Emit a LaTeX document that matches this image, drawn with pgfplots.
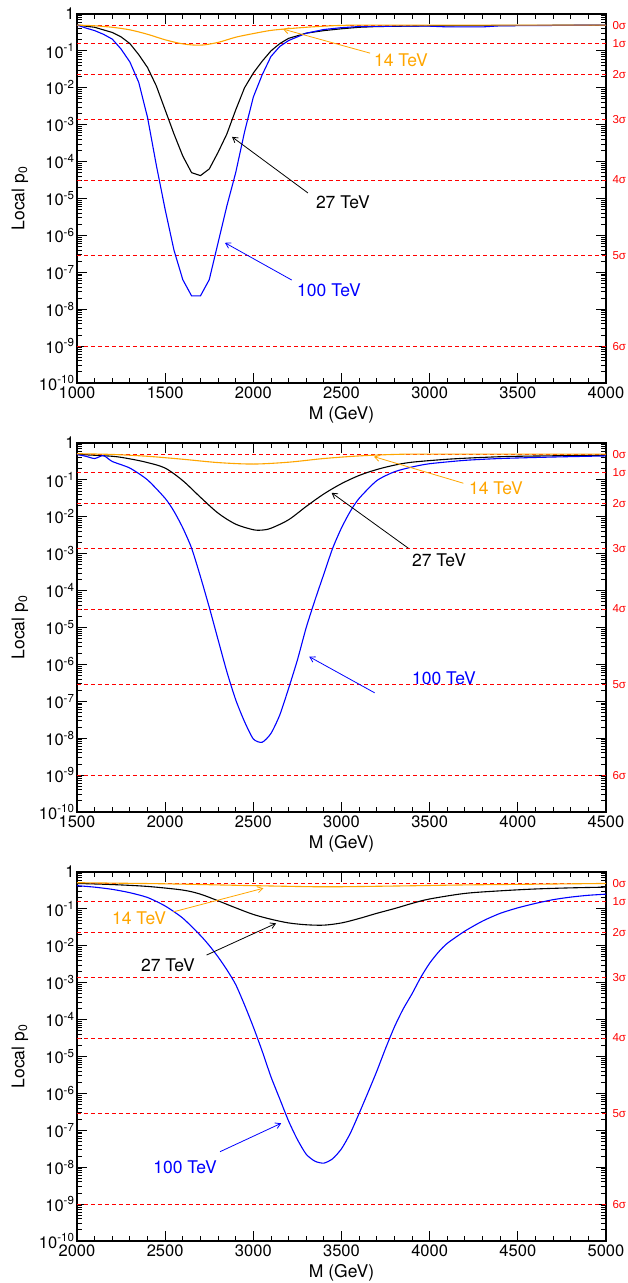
\documentclass[border=0pt]{standalone}
\usepackage{fontspec}
\setmainfont{TeX Gyre Heros}
\newfontfamily\sigfont{Liberation Sans}
\usepackage{pgfplots}
\pgfplotsset{compat=1.18}
\usepackage{pgfplotstable}
\usetikzlibrary{arrows.meta}
\definecolor{lhcorange}{RGB}{255,165,0}

% ---------------- local p0 versus resonance mass ----------------
% panel 1
\pgfplotstableread{
M p
1000 0.501
1100 0.479
1200 0.437
1300 0.372
1400 0.282
1500 0.200
1600 0.155
1700 0.143
1800 0.170
1900 0.235
2000 0.295
2100 0.360
2200 0.400
2300 0.437
2400 0.468
2500 0.490
2700 0.501
4000 0.501
}\pOneA
\pgfplotstableread{
M p
1000 0.501
1100 0.437
1200 0.316
1250 0.240
1300 0.158
1350 0.0794
1400 0.0355
1450 0.0112
1500 0.00251
1550 5.62e-4
1600 1.41e-4
1650 5.01e-5
1700 4.17e-5
1750 6.31e-5
1800 1.78e-4
1850 5.62e-4
1900 0.00251
1950 0.0100
2000 0.0251
2050 0.0525
2100 0.100
2150 0.158
2200 0.219
2300 0.302
2400 0.355
2500 0.398
2600 0.437
2700 0.457
3000 0.479
4000 0.501
}\pOneB
\pgfplotstableread{
M p
1000 0.501
1050 0.417
1100 0.355
1150 0.282
1200 0.209
1250 0.112
1300 0.0501
1350 0.0141
1400 0.00158
1450 7.94e-5
1500 5.01e-6
1550 3.98e-7
1600 6.31e-8
1650 2.29e-8
1700 2.29e-8
1750 6.31e-8
1800 6.31e-7
1850 6.31e-6
1900 5.01e-5
1950 6.31e-4
2000 0.00562
2050 0.0224
2100 0.0708
2150 0.132
2200 0.191
2300 0.302
2400 0.380
2500 0.427
2600 0.457
2800 0.468
3000 0.468
3100 0.447
3300 0.447
3400 0.479
4000 0.501
}\pOneC
% panel 2
\pgfplotstableread{
M p
1500 0.513
1700 0.490
1900 0.437
2100 0.363
2300 0.295
2500 0.269
2700 0.302
2900 0.380
3100 0.447
3300 0.490
3500 0.501
4500 0.501
}\pTwoA
\pgfplotstableread{
M p
1500 0.490
1700 0.437
1800 0.372
1900 0.295
2000 0.209
2100 0.0955
2200 0.0339
2300 0.0126
2400 0.00631
2500 0.00447
2550 0.00437
2600 0.00490
2700 0.00832
2800 0.0191
2900 0.0417
3000 0.0794
3100 0.132
3200 0.191
3300 0.251
3400 0.302
3600 0.363
3800 0.407
4000 0.437
4500 0.468
}\pTwoB
\pgfplotstableread{
M p
1500 0.490
1550 0.437
1600 0.380
1650 0.457
1700 0.316
1800 0.209
1900 0.100
2000 0.0316
2050 0.0141
2100 0.00501
2150 0.00141
2200 2.40e-4
2250 3.55e-5
2300 4.68e-6
2350 6.31e-7
2400 1.10e-7
2450 2.82e-8
2500 9.55e-9
2550 7.76e-9
2600 1.35e-8
2650 4.27e-8
2700 2.24e-7
2750 1.32e-6
2800 1.00e-5
2850 5.62e-5
2900 2.82e-4
2950 1.41e-3
3000 5.01e-3
3050 0.0141
3100 0.0316
3200 0.0955
3300 0.166
3400 0.224
3500 0.275
3700 0.339
3900 0.380
4200 0.417
4500 0.447
}\pTwoC
% panel 3
\pgfplotstableread{
M p
2000 0.513
2500 0.479
3000 0.427
3400 0.398
3800 0.417
4200 0.447
4600 0.468
5000 0.490
}\pThreeA
\pgfplotstableread{
M p
2000 0.490
2200 0.457
2400 0.407
2600 0.324
2700 0.251
2800 0.166
2900 0.107
3000 0.0708
3100 0.0525
3200 0.0417
3300 0.0372
3400 0.0363
3500 0.0417
3600 0.0550
3700 0.0759
3800 0.102
3900 0.141
4000 0.186
4200 0.263
4400 0.309
4600 0.347
4800 0.372
5000 0.389
}\pThreeB
\pgfplotstableread{
M p
2000 0.427
2100 0.389
2200 0.339
2300 0.275
2400 0.204
2500 0.120
2600 0.0562
2700 0.0191
2750 0.0102
2800 0.00501
2850 0.00224
2900 8.91e-4
2950 2.51e-4
3000 6.31e-5
3050 1.41e-5
3100 2.82e-6
3150 7.08e-7
3200 1.78e-7
3250 5.62e-8
3300 2.24e-8
3350 1.45e-8
3400 1.29e-8
3450 1.70e-8
3500 3.16e-8
3550 8.32e-8
3600 2.88e-7
3650 1.05e-6
3700 3.98e-6
3750 1.66e-5
3800 6.31e-5
3850 1.95e-4
3900 5.01e-4
3950 1.41e-3
4000 3.39e-3
4050 6.76e-3
4100 0.0117
4200 0.0251
4300 0.0468
4400 0.0759
4500 0.107
4600 0.141
4700 0.178
4800 0.209
4900 0.234
5000 0.251
}\pThreeC

% common look of the three panels
\pgfplotsset{
  every axis/.append style={
    scale only axis, width=529pt, height=369pt,
    anchor=south west, clip=false,
    ymin=1e-10, ymax=1,
    ytick={1e-10,1e-9,1e-8,1e-7,1e-6,1e-5,1e-4,1e-3,1e-2,1e-1,1},
    yticklabels={10\textsuperscript{-10},10\textsuperscript{-9},10\textsuperscript{-8},
      10\textsuperscript{-7},10\textsuperscript{-6},10\textsuperscript{-5},
      10\textsuperscript{-4},10\textsuperscript{-3},10\textsuperscript{-2},
      10\textsuperscript{-1},1},
    xtick distance=500, minor x tick num=4,
    tick align=inside, tick pos=both,
    major tick length=10pt, minor tick length=5pt,
    every tick/.style={black, line width=0.9pt},
    axis line style={line width=1.2pt},
    tick label style={font=\fontsize{16.5}{19}\selectfont},
    yticklabel style={xshift=1pt},
    xticklabel style={/pgf/number format/assume math mode=true,
      /pgf/number format/1000 sep={}},
    xlabel={M (GeV)}, ylabel={Local p\textsubscript{0}},
    label style={font=\fontsize{17.5}{20}\selectfont},
    xlabel style={at={(axis description cs:0.5,-0.087)}, anchor=center},
    ylabel style={at={(axis description cs:-0.108,0.5)}, anchor=center},
    every axis plot/.append style={line width=1.1pt},
  },
  sig/.style={red, dash pattern=on 4pt off 3pt, line width=0.9pt, forget plot},
}
\tikzset{
  siglab/.style={red, anchor=west, xshift=3pt, font=\sigfont\fontsize{11.5}{13}\selectfont},
  ann/.style={font=\fontsize{17.5}{20}\selectfont},
  arr/.style={line width=0.8pt, -{Straight Barb[length=5pt,width=6pt]}},
}

% dashed significance levels 0..6 sigma and their labels on the right
\newcommand\sigmalines[2]{%
  \addplot[sig] coordinates {(#1,0.5) (#2,0.5)};
  \addplot[sig] coordinates {(#1,0.158655) (#2,0.158655)};
  \addplot[sig] coordinates {(#1,0.0227501) (#2,0.0227501)};
  \addplot[sig] coordinates {(#1,0.0013499) (#2,0.0013499)};
  \addplot[sig] coordinates {(#1,3.16712e-5) (#2,3.16712e-5)};
  \addplot[sig] coordinates {(#1,2.86652e-7) (#2,2.86652e-7)};
  \addplot[sig] coordinates {(#1,9.86588e-10) (#2,9.86588e-10)};
  \node[siglab] at (axis cs:#2,0.5) {0σ};
  \node[siglab] at (axis cs:#2,0.158655) {1σ};
  \node[siglab] at (axis cs:#2,0.0227501) {2σ};
  \node[siglab] at (axis cs:#2,0.0013499) {3σ};
  \node[siglab] at (axis cs:#2,3.16712e-5) {4σ};
  \node[siglab] at (axis cs:#2,2.86652e-7) {5σ};
  \node[siglab] at (axis cs:#2,9.86588e-10) {6σ};
}

\begin{document}
\begin{tikzpicture}
\path[use as bounding box] (-77pt,-900pt) rectangle (550pt,383pt);

% ---- panel 1 ----
\begin{semilogyaxis}[at={(0pt,0pt)}, xmin=1000, xmax=4000]
  \sigmalines{1000}{4000}
  \addplot[black] table[x=M,y=p] {\pOneB};
  \addplot[blue] table[x=M,y=p] {\pOneC};
  \addplot[lhcorange, smooth] table[x=M,y=p] {\pOneA};
  \draw[lhcorange, arr] (axis cs:2662,0.087) -- (axis cs:2168,0.39);
  \node[lhcorange, ann] at (axis cs:2837,0.0562) {14 TeV};
  \draw[black, arr] (axis cs:2310,1.41e-5) -- (axis cs:1879,4.68e-4);
  \node[black, ann] at (axis cs:2508,8.13e-6) {27 TeV};
  \draw[blue, arr] (axis cs:2218,6.17e-8) -- (axis cs:1839,6.31e-7);
  \node[blue, ann] at (axis cs:2429,3.31e-8) {100 TeV};
\end{semilogyaxis}

% ---- panel 2 ----
\begin{semilogyaxis}[at={(0pt,-429pt)}, xmin=1500, xmax=4500]
  \sigmalines{1500}{4500}
  \addplot[black, smooth] table[x=M,y=p] {\pTwoB};
  \addplot[blue, smooth, tension=0.4] table[x=M,y=p] {\pTwoC};
  \addplot[lhcorange, smooth] table[x=M,y=p] {\pTwoA};
  \draw[lhcorange, arr] (axis cs:3691,0.0813) -- (axis cs:3184,0.427);
  \node[lhcorange, ann] at (axis cs:3876,0.0589) {14 TeV};
  \draw[black, arr] (axis cs:3379,1.41e-3) -- (axis cs:2944,0.0447);
  \node[black, ann] at (axis cs:3553,6.76e-4) {27 TeV};
  \draw[blue, arr] (axis cs:3188,1.70e-7) -- (axis cs:2817,1.62e-6);
  \node[blue, ann] at (axis cs:3581,4.27e-7) {100 TeV};
\end{semilogyaxis}

% ---- panel 3 ----
\begin{semilogyaxis}[at={(0pt,-858pt)}, xmin=2000, xmax=5000]
  \sigmalines{2000}{5000}
  \addplot[black, smooth] table[x=M,y=p] {\pThreeB};
  \addplot[blue, smooth, tension=0.4] table[x=M,y=p] {\pThreeC};
  \addplot[lhcorange, smooth] table[x=M,y=p] {\pThreeA};
  \draw[lhcorange, arr] (axis cs:2546,0.0832) -- (axis cs:3057,0.363);
  \node[lhcorange, ann] at (axis cs:2352,0.0562) {14 TeV};
  \draw[black, arr] (axis cs:2735,5.62e-3) -- (axis cs:3129,0.0407);
  \node[black, ann] at (axis cs:2516,3.02e-3) {27 TeV};
  \draw[blue, arr] (axis cs:2811,2.63e-8) -- (axis cs:3158,1.55e-7);
  \node[blue, ann] at (axis cs:2613,1.0e-8) {100 TeV};
\end{semilogyaxis}
\end{tikzpicture}
\end{document}
